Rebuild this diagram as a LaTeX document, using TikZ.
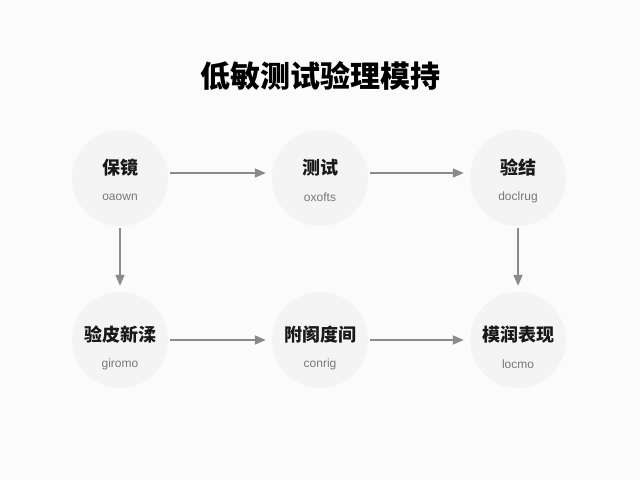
\documentclass[tikz,border=0pt]{standalone}
\usepackage{fontspec}
\setmainfont{Liberation Sans}
\newfontfamily\cjk{Noto Sans CJK SC}
\usetikzlibrary{positioning,arrows.meta}
\definecolor{bgc}{HTML}{FBFBFB}
\definecolor{circc}{HTML}{F4F4F4}
\definecolor{arrc}{HTML}{8A8A8A}
\definecolor{subc}{HTML}{777777}
\tikzset{
  stage/.style={circle,fill=circc,minimum size=96pt,inner sep=0pt},
  head/.style={font=\cjk\bfseries\fontsize{18pt}{18pt}\selectfont,text=black!90},
  sub/.style={font=\fontsize{12pt}{12pt}\selectfont,text=subc},
  flow/.style={draw=arrc,line width=1.5pt,-{Triangle[length=11pt,width=9pt]},shorten <=2pt,shorten >=6pt}
}
\begin{document}
\begin{tikzpicture}[x=1pt,y=-1pt]
  \fill[bgc] (0,0) rectangle (640,480);
  \useasboundingbox (0,0) rectangle (640,480);

  \node[font=\cjk\bfseries\fontsize{30pt}{30pt}\selectfont] (title) at (320,76) {低敏测试验理模持};

  % stages
  \node[stage] (s1) at (120,178) {};
  \node[stage] (s2) at (320,178) {};
  \node[stage] (s3) at (518,178) {};
  \node[stage] (s4) at (120,340) {};
  \node[stage] (s5) at (320,340) {};
  \node[stage] (s6) at (518,340) {};

  \node[head] at (120,168) {保镜};
  \node[sub]  at (120,197) {oaown};
  \node[head] at (320,168) {测试};
  \node[sub]  at (320,197) {oxofts};
  \node[head] at (518,168) {验结};
  \node[sub]  at (518,197) {doclrug};
  \node[head] at (120,335) {验皮新渘};
  \node[sub]  at (120,364) {giromo};
  \node[head] at (320,335) {附阂度间};
  \node[sub]  at (320,364) {conrig};
  \node[head] at (518,335) {模润表现};
  \node[sub]  at (518,364) {locmo};

  % connectors
  \draw[flow] ([yshift=5pt]s1.east) -- ([yshift=5pt]s2.west);
  \draw[flow] ([yshift=5pt]s2.east) -- ([yshift=5pt]s3.west);
  \draw[flow] (s1.south) -- (s4.north);
  \draw[flow] (s3.south) -- (s6.north);
  \draw[flow] (s4.east) -- (s5.west);
  \draw[flow] (s5.east) -- (s6.west);
\end{tikzpicture}
\end{document}
